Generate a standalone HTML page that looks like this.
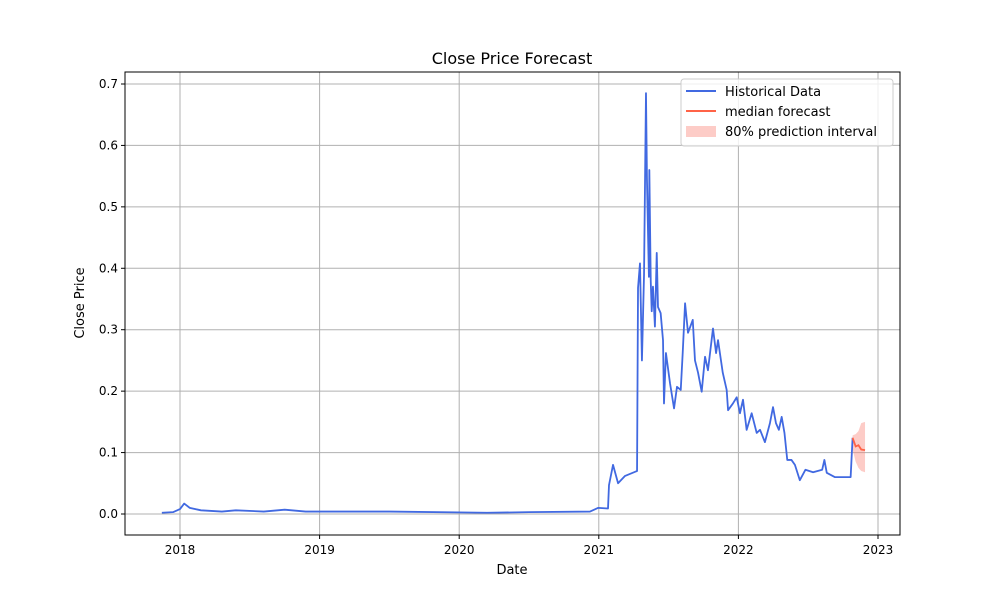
<!DOCTYPE html>
<html><head><meta charset="utf-8"><style>
body{margin:0;background:#fff;font-family:"Liberation Sans","DejaVu Sans",sans-serif}
svg text{font-family:"DejaVu Sans","Liberation Sans",sans-serif}
</style></head><body>
<svg id="c" width="1000" height="600" xmlns="http://www.w3.org/2000/svg"></svg>
<script>
const histYears=[2017.87,2017.95,2018.0,2018.03,2018.07,2018.15,2018.3,2018.4,2018.6,2018.75,2018.9,2019.5,2020.2,2020.5,2020.937,2020.996,2021.066,2021.073,2021.102,2021.138,2021.188,2021.274,2021.281,2021.295,2021.309,2021.324,2021.338,2021.345,2021.359,2021.362,2021.372,2021.379,2021.388,2021.402,2021.415,2021.424,2021.443,2021.46,2021.467,2021.481,2021.51,2021.539,2021.56,2021.587,2021.601,2021.618,2021.639,2021.673,2021.689,2021.711,2021.737,2021.761,2021.782,2021.818,2021.84,2021.854,2021.888,2021.916,2021.926,2021.961,2021.988,2022.011,2022.033,2022.059,2022.095,2022.131,2022.155,2022.19,2022.226,2022.248,2022.269,2022.29,2022.31,2022.33,2022.35,2022.38,2022.405,2022.44,2022.48,2022.535,2022.6,2022.616,2022.633,2022.692,2022.752,2022.804,2022.818];
const histValues=[0.002,0.003,0.008,0.017,0.01,0.006,0.004,0.006,0.004,0.007,0.004,0.004,0.002,0.003,0.004,0.01,0.009,0.047,0.08,0.05,0.062,0.07,0.368,0.408,0.25,0.39,0.685,0.544,0.386,0.56,0.38,0.33,0.37,0.305,0.425,0.337,0.327,0.283,0.18,0.262,0.213,0.172,0.207,0.202,0.262,0.343,0.295,0.316,0.25,0.23,0.199,0.256,0.234,0.302,0.262,0.283,0.23,0.202,0.169,0.18,0.19,0.164,0.186,0.137,0.164,0.132,0.137,0.117,0.148,0.174,0.148,0.137,0.158,0.132,0.088,0.088,0.08,0.055,0.072,0.068,0.072,0.088,0.067,0.06,0.06,0.06,0.124];
const fcYears=[2022.818,2022.84,2022.86,2022.88,2022.907];
const fcMedian=[0.124,0.11,0.112,0.105,0.104];
const fcLow=[0.105,0.085,0.075,0.07,0.068];
const fcHigh=[0.128,0.13,0.135,0.148,0.15];
const yTicks=[0,0.1,0.2,0.3,0.4,0.5,0.6,0.7];
const xTicks=[2018,2019,2020,2021,2022,2023];

const svg=document.getElementById('c');const NS='http://www.w3.org/2000/svg';
const L=125,R=900,T=72,B=535;
const xs=v=>180+(v-2018)*139.6;
const ys=v=>514-v*614.3;
function mk(t,a,p){const e=document.createElementNS(NS,t);for(const k in a)e.setAttribute(k,a[k]);(p||svg).appendChild(e);return e;}
function tx(s,a){const e=mk('text',a);e.textContent=s;return e;}
// grid
yTicks.forEach(v=>{const y=ys(v);
const g=mk('line',{x1:L,x2:R,y1:y,y2:y,stroke:'#b0b0b0','stroke-width':1});


mk('line',{x1:L-4,x2:L,y1:y,y2:y,stroke:'#000'});
const t=tx(v.toFixed(1),{x:L-7,y:y+4,'text-anchor':'end','font-size':12});

});
xTicks.forEach(v=>{const x=xs(v);
const g=mk('line',{x1:x,x2:x,y1:T,y2:B,stroke:'#b0b0b0','stroke-width':1});


mk('line',{x1:x,x2:x,y1:B,y2:B+4,stroke:'#000'});
const t=tx(String(v),{x:x,y:B+19,'text-anchor':'middle','font-size':12});

});
// band
let pts=fcYears.map((y,i)=>xs(y)+','+ys(fcHigh[i]));
for(let i=fcYears.length-1;i>=0;i--)pts.push(xs(fcYears[i])+','+ys(fcLow[i]));
const band=mk('polygon',{points:pts.join(' '),fill:'#fa8072','fill-opacity':0.4});


const hl=mk('polyline',{points:histYears.map((y,i)=>xs(y)+','+ys(histValues[i])).join(' '),fill:'none',stroke:'#4169e1','stroke-width':1.8,'stroke-linejoin':'round'});


const ml=mk('polyline',{points:fcYears.map((y,i)=>xs(y)+','+ys(fcMedian[i])).join(' '),fill:'none',stroke:'#ff6347','stroke-width':1.8});


mk('rect',{x:L,y:T,width:R-L,height:B-T,fill:'none',stroke:'#000','stroke-width':1});
const ti=tx('Close Price Forecast',{x:512,y:64,'text-anchor':'middle','font-size':16});


const xl=tx('Date',{x:512,y:574,'text-anchor':'middle','font-size':13});


const yl=tx('Close Price',{x:84,y:303,'text-anchor':'middle','font-size':13,transform:'rotate(-90 84 303)'});


// legend
const lg=mk('g',{});


mk('rect',{x:681,y:79,width:212,height:67,rx:3,fill:'#fff','fill-opacity':0.8,stroke:'#ccc'},lg);
mk('line',{x1:686,x2:716,y1:91,y2:91,stroke:'#4169e1','stroke-width':2},lg);
mk('line',{x1:686,x2:716,y1:111,y2:111,stroke:'#ff6347','stroke-width':2},lg);
mk('rect',{x:686,y:126,width:30,height:11,fill:'#fa8072','fill-opacity':0.4},lg);
[['Historical Data',96],['median forecast',116],['80% prediction interval',136]].forEach(([s,y])=>{const e=document.createElementNS(NS,'text');e.setAttribute('x',725);e.setAttribute('y',y);e.setAttribute('font-size',13);e.textContent=s;lg.appendChild(e);});
</script>
</body></html>
